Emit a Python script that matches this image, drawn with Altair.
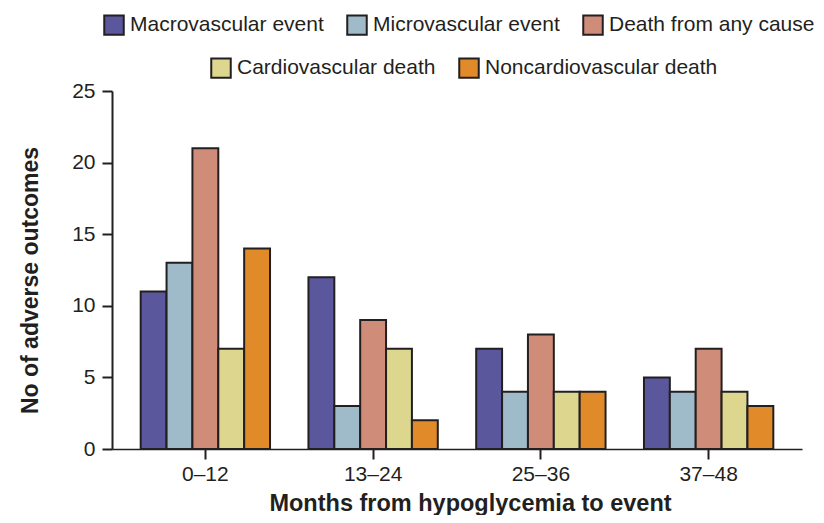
import altair as alt
import pandas as pd

periods = ["0–12", "13–24", "25–36", "37–48"]
series = ["Macrovascular event", "Microvascular event", "Death from any cause",
          "Cardiovascular death", "Noncardiovascular death"]
colors = ["#5b579d", "#9fbac8", "#cf8d79", "#ddd68e", "#e08a2a"]

macro = [11, 12, 7, 5]
micro = [13, 3, 4, 4]
death = [21, 9, 8, 7]
cardio = [7, 7, 4, 4]
noncardio = [14, 2, 4, 3]

values = [macro, micro, death, cardio, noncardio]
rows = []
for s, vals in zip(series, values):
    for p, v in zip(periods, vals):
        rows.append({"period": p, "series": s, "value": v})
df = pd.DataFrame(rows)

FONT = "Liberation Sans, Arial, Helvetica, sans-serif"
INK = "#231f20"

base = alt.Chart(df)

x = alt.X("period:N", sort=periods,
          scale=alt.Scale(domain=periods, paddingInner=0.229, paddingOuter=0.171),
          axis=alt.Axis(title="Months from hypoglycemia to event", labelAngle=0,
                        titlePadding=7, titleX=358, titleFontSize=23.5, domainWidth=1.5))
xo = alt.XOffset("series:N", sort=series, scale=alt.Scale(domain=series))
y = alt.Y("value:Q", scale=alt.Scale(domain=[0, 25]),
          axis=alt.Axis(title="No of adverse outcomes", values=[0, 5, 10, 15, 20, 25],
                        titlePadding=29, titleY=189, labelPadding=7, domainWidth=2))


def legend(x0, y0, cols):
    return alt.Legend(orient="none", legendX=x0, legendY=y0, direction="horizontal",
                      columns=cols, title=None, symbolType="square", symbolSize=380,
                      symbolStrokeColor=INK, symbolStrokeWidth=2, symbolOpacity=1,
                      labelFont=FONT, labelFontSize=21, labelColor=INK, labelOffset=5,
                      columnPadding=19, padding=0, labelLimit=400)


l1 = base.transform_filter(
    alt.FieldOneOfPredicate(field="series", oneOf=series[:3])
).mark_bar(stroke=INK, strokeWidth=2, opacity=1).encode(
    x=x, xOffset=xo, y=y,
    color=alt.Color("series:N", sort=series[:3],
                    scale=alt.Scale(domain=series[:3], range=colors[:3]),
                    legend=legend(-9, -77, 3)),
)

l2 = base.transform_filter(
    alt.FieldOneOfPredicate(field="series", oneOf=series[3:])
).mark_bar(stroke=INK, strokeWidth=2, opacity=1).encode(
    x=x, xOffset=xo, y=y,
    color=alt.Color("series:N", sort=series[3:],
                    scale=alt.Scale(domain=series[3:], range=colors[3:]),
                    legend=legend(98, -34, 2)),
)

chart = alt.layer(l1, l2).resolve_scale(color="independent").properties(
    width=690, height=358,
    autosize=alt.AutoSizeParams(type="none"),
    padding={"left": 104, "top": 83, "right": 14, "bottom": 66},
).configure_view(stroke=None).configure_axis(
    grid=False, domainColor=INK, tickColor=INK, tickSize=10, tickWidth=2,
    labelFont=FONT, labelFontSize=21, labelColor=INK, labelPadding=4,
    titleFont=FONT, titleFontSize=23, titleFontWeight="bold", titleColor=INK,
)

chart.save("out.html", embed_options={"renderer": "svg", "actions": False})
